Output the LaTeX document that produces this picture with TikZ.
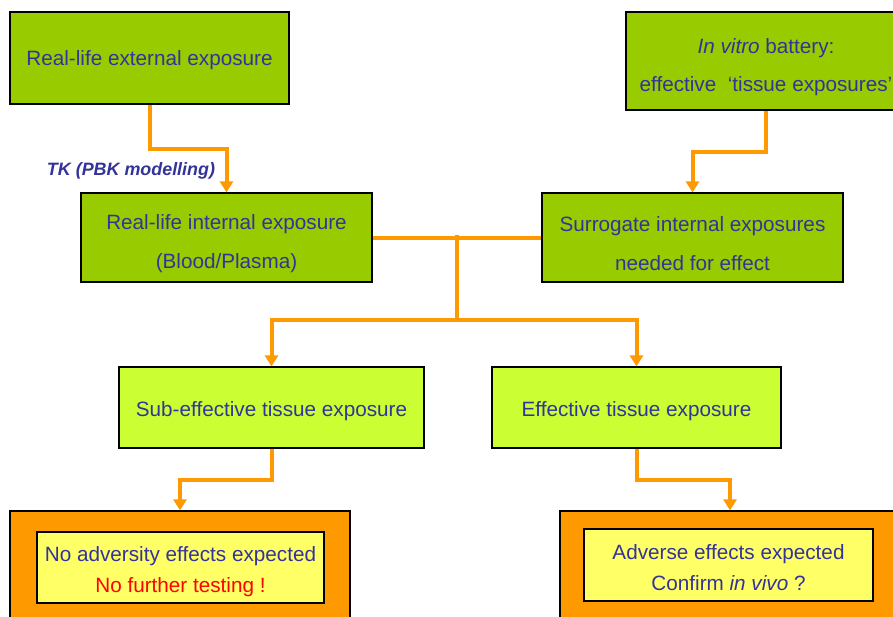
\documentclass[tikz,border=0pt]{standalone}
\usepackage{fontspec}
\setmainfont{Liberation Sans}
\usetikzlibrary{arrows.meta,calc}
\definecolor{dgreen}{HTML}{99CC00}
\definecolor{lgreen}{HTML}{CCFF33}
\definecolor{dorange}{HTML}{FF9900}
\definecolor{lyellow}{HTML}{FFFF66}
\definecolor{txtblue}{HTML}{333399}
\definecolor{txtred}{HTML}{FF0000}
\newcommand\tstrut[1]{\rule{0pt}{#1}}
\tikzset{
  box/.style={draw=black, line width=1.2pt, rectangle, inner sep=0pt, text=txtblue, align=center},
  darkbox/.style={box, fill=dgreen},
  lightbox/.style={box, fill=lgreen},
  outerbox/.style={box, fill=dorange},
  innerbox/.style={box, fill=lyellow},
  txt/.style={font=\fontsize{20.7}{39}\selectfont},
  txtsmall/.style={font=\fontsize{20.7}{31}\selectfont},
  conn/.style={draw=dorange, line width=4pt},
  arr/.style={conn, -{Triangle[width=13pt,length=11pt]}},
}
\begin{document}
\begin{tikzpicture}[x=1pt,y=-1pt]
\clip (0,0) rectangle (893,616);
\fill[white] (0,0) rectangle (893,616);
% top row
\node[darkbox, txt, minimum width=279pt, minimum height=92pt] (ext) at (149.5,58) {\tstrut{19pt}Real-life external exposure};
\node[darkbox, font=\fontsize{20.7}{38}\selectfont, minimum width=280pt, minimum height=98pt] (vitro) at (766,61) {\tstrut{27pt}\textit{In vitro} battery:\\effective\ \ ‘tissue exposures’};
% second row
\node[darkbox, txt, minimum width=291pt, minimum height=89pt] (int) at (226.5,237.5) {\tstrut{27pt}Real-life internal exposure\\(Blood/Plasma)};
\node[darkbox, txt, minimum width=301pt, minimum height=89pt] (sur) at (692.5,237.5) {\tstrut{27pt}Surrogate internal exposures\\needed for effect};
% third row
\node[lightbox, txt, minimum width=305pt, minimum height=81pt] (sub) at (271.5,407.5) {\tstrut{23pt}Sub-effective tissue exposure};
\node[lightbox, txt, minimum width=289pt, minimum height=81pt] (eff) at (636.5,407.5) {\tstrut{23pt}Effective tissue exposure};
% bottom row
\node[outerbox, minimum width=340pt, minimum height=130pt] (noadv) at (180,576) {};
\node[outerbox, minimum width=340pt, minimum height=130pt] (adv) at (730,576) {};
\node[innerbox, txtsmall, minimum width=287pt, minimum height=71pt] (noadvin) at (180.5,567.5) {\tstrut{24pt}No adversity effects expected\\\textcolor{txtred}{No further testing !}};
\node[innerbox, txtsmall, minimum width=289pt, minimum height=72pt] (advin) at (728.5,565) {\tstrut{21pt}Adverse effects expected\\Confirm \textit{in vivo} ?};
% label
\node[text=txtblue, font=\fontsize{17.9}{20}\selectfont\bfseries\itshape] (tk) at (131,171) {TK (PBK modelling)};
% connectors
\draw[arr] (ext.south) |- ($(ext.south)!0.5!(int.north)$) -| (int.north);
\draw[arr] (vitro.south) |- ($(vitro.south)!0.5!(sur.north)$) -| (sur.north);
\draw[conn] (int.east) -- (sur.west);
\coordinate (top) at ($(int.east)!0.5!(sur.west)$);
\coordinate (j) at ($(top)+(0,82)$);
\draw[conn] ($(top)+(0,-3)$) -- (j);
\draw[arr] (j) -| (sub.north);
\draw[arr] (j) -| (eff.north);
\draw[arr] (sub.south) |- ($(sub.south)!0.5!(noadv.north)$) -| (noadv.north);
\draw[arr] (eff.south) |- ($(eff.south)!0.5!(adv.north)$) -| (adv.north);
\end{tikzpicture}
\end{document}
